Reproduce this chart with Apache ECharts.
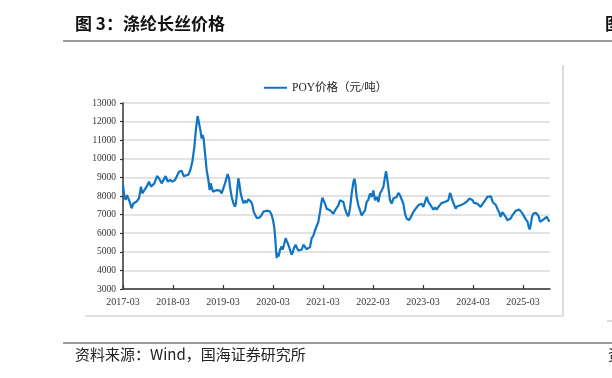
<!DOCTYPE html>
<html>
<head>
<meta charset="utf-8">
<script src="https://cdn.jsdelivr.net/npm/echarts@6/dist/echarts.min.js"></script>
<style>
  html, body { margin: 0; padding: 0; background: #fff; }
  #chart { width: 612px; height: 378px; }
</style>
</head>
<body>
<div id="chart"></div>
<script>
// x tick labels, one per year starting 2017-03
const xLabels = ['2017-03', '2018-03', '2019-03', '2020-03', '2021-03', '2022-03', '2023-03', '2024-03', '2025-03']
const yTicks = [3000, 4000, 5000, 6000, 7000, 8000, 9000, 10000, 11000, 12000, 13000]

// time in years since 2017-03
const yearsSince = [
  0.000, 0.027, 0.053, 0.080, 0.107, 0.133, 0.173, 0.207, 0.273, 0.320,
  0.360, 0.387, 0.427, 0.473, 0.520, 0.560, 0.587, 0.627, 0.680, 0.720,
  0.773, 0.813, 0.853, 0.893, 0.940, 0.987, 1.040, 1.080, 1.120, 1.173,
  1.213, 1.253, 1.307, 1.347, 1.387, 1.427, 1.460, 1.493, 1.520, 1.547,
  1.573, 1.593, 1.613, 1.640, 1.673, 1.707, 1.733, 1.753, 1.773, 1.800,
  1.840, 1.873, 1.907, 1.940, 1.973, 2.007, 2.040, 2.073, 2.093, 2.120,
  2.140, 2.173, 2.207, 2.240, 2.260, 2.287, 2.307, 2.327, 2.353, 2.387,
  2.413, 2.440, 2.473, 2.507, 2.540, 2.560, 2.587, 2.613, 2.653, 2.680,
  2.707, 2.740, 2.773, 2.807, 2.840, 2.893, 2.940, 2.973, 3.000, 3.027,
  3.047, 3.060, 3.073, 3.093, 3.113, 3.140, 3.173, 3.193, 3.220, 3.253,
  3.280, 3.307, 3.340, 3.373, 3.393, 3.420, 3.453, 3.480, 3.507, 3.540,
  3.573, 3.607, 3.640, 3.673, 3.707, 3.740, 3.773, 3.807,
  3.840, 3.873, 3.907, 3.940, 3.960, 3.987, 4.013, 4.040, 4.073, 4.107,
  4.140, 4.173, 4.207, 4.240, 4.273, 4.307, 4.340, 4.373, 4.407, 4.440,
  4.473, 4.507, 4.540, 4.573, 4.607, 4.627, 4.647, 4.673, 4.707, 4.740,
  4.773, 4.807, 4.840, 4.873, 4.907, 4.940, 4.973, 5.007, 5.040, 5.073,
  5.107, 5.140, 5.173, 5.207, 5.240, 5.260, 5.280, 5.307, 5.340, 5.373,
  5.407, 5.440, 5.473, 5.507, 5.540, 5.573, 5.607, 5.640, 5.673, 5.720,
  5.760, 5.807, 5.840, 5.873, 5.907, 5.940, 5.973, 6.007, 6.040, 6.073,
  6.107,
  6.140, 6.173, 6.207, 6.240, 6.273, 6.307, 6.340, 6.373, 6.407, 6.440,
  6.473, 6.507, 6.540, 6.560, 6.587, 6.620, 6.653, 6.687, 6.720, 6.753,
  6.787, 6.820, 6.853, 6.887, 6.927, 6.967, 6.993, 7.020, 7.053, 7.087,
  7.120, 7.153, 7.187, 7.220, 7.253, 7.287, 7.327, 7.360, 7.393, 7.427,
  7.460, 7.487, 7.520, 7.553, 7.587, 7.620, 7.653, 7.687, 7.720, 7.753,
  7.787, 7.820, 7.853, 7.887, 7.927, 7.960, 7.993, 8.027, 8.060, 8.093,
  8.113, 8.133, 8.153, 8.180, 8.207, 8.227, 8.260, 8.287, 8.313, 8.340,
  8.373, 8.407, 8.440, 8.473, 8.500, 8.527
]

// POY价格（元/吨）
const poyPrice = [
  8600, 7960, 7790, 8050, 8140, 7700, 7340, 7600, 7700, 7880,
  8500, 8140, 8050, 8500, 8770, 8500, 8410, 8680, 9070, 8950,
  8680, 8770, 9070, 8770, 8860, 8770, 8860, 8950, 9300, 9360,
  9070, 9140, 9140, 9400, 9840, 10640, 11620, 12300, 12250, 11540,
  11090, 11270, 11090, 10290, 9400, 8860, 8320, 8680, 8770, 8230,
  8230, 8320, 8410, 8290, 8140, 8410, 8680, 8770, 9180, 8950,
  8500, 7960, 7610, 7430, 7610, 8410, 8950, 8680, 8140, 7790,
  7610, 7750, 7640, 7820, 7880, 7700, 7520, 7160, 6930, 6800,
  6890, 6860, 6980, 7160, 7210, 7210, 7160, 6980, 6710, 6270,
  5640, 5110, 4660, 4930, 4750, 5110, 5290, 5110, 5380, 5730,
  5550, 5380, 5110, 4840, 4960, 5200, 5380, 5200, 5070, 5020,
  5110, 5380, 5290, 5140, 5110, 5250, 5730, 5860,
  6160, 6250, 6610, 7140, 7500, 7910, 7950, 7590, 7320, 7410,
  7230, 7320, 7050, 7230, 7140, 7500, 7770, 7860, 7680, 7320,
  7050, 6910, 7320, 8130, 8750, 8930, 8660, 7950, 7500, 7230,
  6960, 6880, 7230, 7680, 7800, 8130, 7950, 8300, 7770, 7950,
  7680, 8130, 8300, 8480, 9020, 9340, 9020, 8480, 7770, 7590,
  7860, 7770, 7950, 8160, 8040, 7950, 7590, 7050, 6790, 6700,
  6880, 7140, 7270, 7320, 7500, 7410, 7590, 7410, 7680, 7950,
  7680,
  7590, 7410, 7270, 7380, 7270, 7410, 7500, 7630, 7590, 7680,
  7630, 7770, 8160, 8040, 7770, 7680, 7320, 7450, 7380, 7500,
  7410, 7590, 7550, 7730, 7860, 7950, 7770, 7630, 7730, 7590,
  7680, 7410, 7320, 7680, 7800, 7950, 8040, 7980, 7680, 7590,
  7500, 7320, 7140, 6880, 7140, 7050, 6880, 6700, 6610, 6790,
  6960, 7050, 7200, 7270, 7270, 7200, 7050, 6880, 6730, 6610,
  6340, 6200, 6430, 6880, 7050, 6960, 7090, 7140, 6910, 6610,
  6700, 6730, 6790, 6880, 6840, 6610
]

const chart = echarts.init(document.getElementById('chart'))

const serifFont = '"Liberation Serif", "Noto Sans CJK SC", serif'
const tickIdx = xLabels.map((_, i) => i)

const option = {
  backgroundColor: '#ffffff',
  animation: false,
  grid: {
    left: 123,
    right: 62,
    top: 103,
    bottom: 89,
  },
  legend: {
    left: 259,
    top: 77,
    itemWidth: 23,
    itemHeight: 2,
    icon: 'rect',
    textStyle: {
      fontFamily: serifFont,
      fontSize: 11.5,
      color: '#222',
    },
    data: ['POY价格（元/吨）'],
  },
  xAxis: {
    type: 'value',
    min: 0,
    max: 8.54,
    interval: 1,
    axisLine: {
      lineStyle: { color: '#333', width: 1.5 },
    },
    axisTick: {
      inside: true,
      length: 4,
      customValues: tickIdx,
      lineStyle: { color: '#333', width: 1.2 },
    },
    axisLabel: {
      customValues: tickIdx,
      formatter: (v) => xLabels[Math.round(v)] || '',
      fontFamily: serifFont,
      fontSize: 10,
      color: '#333',
      margin: 8,
    },
    splitLine: { show: false },
  },
  yAxis: {
    type: 'value',
    min: yTicks[0],
    max: yTicks[yTicks.length - 1],
    interval: 1000,
    axisLine: {
      show: true,
      lineStyle: { color: '#333', width: 1.5 },
    },
    axisTick: {
      show: true,
      length: 3,
      lineStyle: { color: '#333', width: 1.2 },
    },
    axisLabel: {
      formatter: (v) => String(v),
      fontFamily: serifFont,
      fontSize: 9.5,
      color: '#333',
      margin: 7,
    },
    splitLine: {
      lineStyle: { color: '#dadada', width: 1.5 },
    },
  },
  series: [
    {
      name: 'POY价格（元/吨）',
      type: 'line',
      symbol: 'none',
      data: yearsSince.map((t, i) => [t, poyPrice[i]]),
      lineStyle: { color: '#0f74c4', width: 2.2 },
      itemStyle: { color: '#0f74c4' },
    },
  ],
  graphic: [
    {
      type: 'text',
      left: 75,
      top: 15,
      style: {
        text: '图 3：涤纶长丝价格',
        font: 'bold 17px "Noto Sans CJK SC", sans-serif',
        fill: '#111',
      },
    },
    {
      type: 'line',
      shape: { x1: 63, y1: 41, x2: 612, y2: 41 },
      style: { stroke: '#7a7a7a', lineWidth: 1.5 },
    },
    {
      type: 'line',
      shape: { x1: 563, y1: 65, x2: 563, y2: 316 },
      style: { stroke: '#c4c4c4', lineWidth: 1.2 },
    },
    {
      type: 'line',
      shape: { x1: 85, y1: 316, x2: 563, y2: 316 },
      style: { stroke: '#c4c4c4', lineWidth: 1.2 },
    },
    {
      type: 'line',
      shape: { x1: 607, y1: 321, x2: 612, y2: 321 },
      style: { stroke: '#c4c4c4', lineWidth: 1.2 },
    },
    {
      type: 'line',
      shape: { x1: 63, y1: 343, x2: 612, y2: 343 },
      style: { stroke: '#7a7a7a', lineWidth: 1.5 },
    },
    {
      type: 'text',
      left: 75,
      top: 347,
      style: {
        text: '资料来源：Wind，国海证券研究所',
        font: '15px "Noto Sans CJK SC", sans-serif',
        fill: '#222',
      },
    },
    {
      type: 'text',
      left: 605,
      top: 15,
      style: {
        text: '图',
        font: 'bold 17px "Noto Sans CJK SC", sans-serif',
        fill: '#111',
      },
    },
    {
      type: 'text',
      left: 608,
      top: 347,
      style: {
        text: '资',
        font: '15px "Noto Sans CJK SC", sans-serif',
        fill: '#222',
      },
    },
  ],
}

chart.setOption(option)
</script>
</body>
</html>
